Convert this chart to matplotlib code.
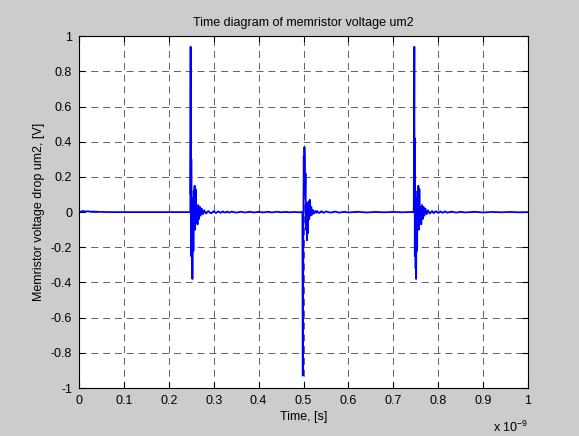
import matplotlib
matplotlib.use("Agg")
import matplotlib.pyplot as plt
import numpy as np

plt.rcParams["font.family"] = ["Liberation Sans", "DejaVu Sans"]
plt.rcParams["axes.unicode_minus"] = False

# time in ns, voltage in V
base_t = [0.0, 0.005, 0.01, 0.015, 0.02, 0.025, 0.03, 0.04, 0.05, 0.07, 0.09, 0.11,
          0.13, 0.15, 0.17, 0.19, 0.21, 0.23, 0.245,
          0.295, 0.30, 0.305, 0.31, 0.315, 0.32, 0.325, 0.33, 0.335, 0.34, 0.35,
          0.36, 0.37, 0.38, 0.39, 0.40, 0.41, 0.42, 0.43, 0.44, 0.45, 0.46, 0.47,
          0.48, 0.49, 0.495,
          0.53, 0.535, 0.54, 0.545, 0.55, 0.56, 0.57, 0.58, 0.59, 0.60, 0.62,
          0.64, 0.66, 0.68, 0.70, 0.72, 0.74, 0.745,
          0.79, 0.795, 0.80, 0.805, 0.81, 0.815, 0.82, 0.83, 0.84, 0.85, 0.86,
          0.88, 0.90, 0.92, 0.94, 0.96, 0.98, 1.0]
base_v = [0.0, 0.004, 0.006, 0.003, 0.005, 0.002, 0.003, 0.002, 0.001, 0.0, 0.0, 0.0,
          0.0, 0.0, 0.0, 0.0, 0.0, 0.0, 0.0,
          -0.006, 0.005, -0.005, 0.004, -0.004, 0.004, -0.003, 0.003, -0.003, 0.003, -0.003,
          0.002, -0.002, 0.002, -0.002, 0.002, -0.002, 0.002, -0.002, 0.002, -0.001, 0.001, -0.001,
          0.001, -0.001, 0.0,
          0.006, -0.005, 0.005, -0.004, 0.004, -0.003, 0.003, -0.003, 0.002, -0.002, 0.002,
          -0.002, 0.001, -0.001, 0.001, -0.001, 0.001, 0.0,
          -0.006, 0.005, -0.005, 0.004, -0.004, 0.004, -0.003, 0.003, -0.003, 0.002, -0.002,
          0.002, -0.002, 0.001, -0.001, 0.001, -0.001, 0.0]

burst1_t = [0.2480, 0.2486, 0.2489, 0.2493, 0.2497, 0.2501, 0.2505, 0.2510, 0.2515,
            0.2520, 0.2526, 0.2532, 0.2540, 0.2548, 0.2556, 0.2565, 0.2575, 0.2585,
            0.2598, 0.2612, 0.2625, 0.2640, 0.2655, 0.2670, 0.2690, 0.2710, 0.2735,
            0.2760, 0.2790, 0.2830, 0.2880, 0.2920]
burst1_v = [0.0, 0.94, 0.10, 0.42, -0.25, 0.30, -0.12, 0.05, -0.32,
            0.02, -0.38, -0.05, 0.08, -0.22, 0.12, 0.0, 0.15, -0.10,
            0.13, -0.06, 0.03, -0.07, 0.04, -0.04, 0.03, -0.02, 0.02,
            -0.012, 0.01, -0.008, 0.006, -0.004]

burst2_t = [0.4975, 0.4984, 0.4987, 0.4991, 0.4995, 0.5000, 0.5006, 0.5012, 0.5020,
            0.5028, 0.5036, 0.5045, 0.5055, 0.5065, 0.5075, 0.5085, 0.5098, 0.5112,
            0.5126, 0.5140, 0.5155, 0.5172, 0.5190, 0.5210, 0.5235, 0.5260, 0.5290]
burst2_v = [0.0, -0.93, -0.30, -0.62, -0.15, 0.05, 0.32, 0.12, 0.37,
            0.30, 0.10, 0.22, -0.10, 0.05, -0.16, 0.02, -0.12, 0.06,
            -0.04, 0.07, -0.02, 0.03, -0.015, 0.012, -0.008, 0.006, -0.004]

burst3_t = [0.7455, 0.7468, 0.7471, 0.7475, 0.7479, 0.7483, 0.7487, 0.7492, 0.7497,
            0.7502, 0.7508, 0.7514, 0.7522, 0.7530, 0.7538, 0.7547, 0.7557, 0.7567,
            0.7580, 0.7594, 0.7607, 0.7622, 0.7637, 0.7652, 0.7672, 0.7692, 0.7717,
            0.7742, 0.7772, 0.7812, 0.7862, 0.7900]
burst3_v = [0.0, 0.94, 0.10, 0.42, -0.25, 0.30, -0.12, 0.05, -0.32,
            0.02, -0.38, -0.05, 0.08, -0.22, 0.12, 0.0, 0.15, -0.10,
            0.13, -0.06, 0.03, -0.07, 0.04, -0.04, 0.03, -0.02, 0.02,
            -0.012, 0.01, -0.008, 0.006, -0.004]

t = np.concatenate([base_t, burst1_t, burst2_t, burst3_t])
v = np.concatenate([base_v, burst1_v, burst2_v, burst3_v])
order = np.argsort(t)
t, v = t[order], v[order]

xticks = [0, 0.1, 0.2, 0.3, 0.4, 0.5, 0.6, 0.7, 0.8, 0.9, 1]
yticks = [-1, -0.8, -0.6, -0.4, -0.2, 0, 0.2, 0.4, 0.6, 0.8, 1]

fig = plt.figure(figsize=(5.79, 4.36), dpi=100, facecolor="#cccccc")
ax = fig.add_axes([0.1364, 0.110, 0.7756, 0.807])
ax.plot(t, v, color="#0000ff", linewidth=1.3)
ax.set_xlim(0, 1)
ax.set_ylim(-1, 1)
ax.set_xticks(xticks)
ax.set_xticklabels([f"{x:g}" for x in xticks])
ax.set_yticks(yticks)
ax.set_yticklabels([f"{y:g}" for y in yticks])
ax.grid(True, color="#222222", linestyle=(0, (10, 7)), linewidth=0.5)
ax.tick_params(direction="in", top=True, right=True, labelsize=9, length=4, pad=5)
for s in ax.spines.values():
    s.set_linewidth(0.8)
ax.set_title("Time diagram of memristor voltage um2", fontsize=9, pad=7)
ax.set_xlabel("Time, [s]", fontsize=9, labelpad=3)
ax.set_ylabel("Memristor voltage drop um2, [V]", fontsize=9, labelpad=4)
ax.text(1.0, -0.09, r"x 10$^{\mathregular{-9}}$", transform=ax.transAxes,
        ha="right", va="top", fontsize=9)

fig.savefig("out.png", dpi=100, facecolor=fig.get_facecolor())
